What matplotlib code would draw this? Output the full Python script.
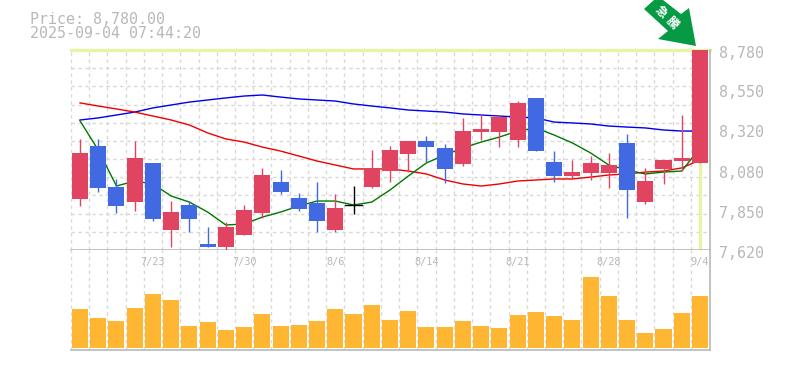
import matplotlib
matplotlib.use("Agg")
import matplotlib.pyplot as plt
from matplotlib.patches import Polygon

title_price = "Price: 8,780.00"
title_time = "2025-09-04 07:44:20"

price_ticks = [8780, 8550, 8320, 8080, 7850, 7620]
date_pos = [4, 9, 14, 19, 24, 29, 34]
date_labels = ["7/23", "7/30", "8/6", "8/14", "8/21", "8/28", "9/4"]

opens = [7916, 8223, 7985, 7898, 8125, 7736, 7881, 7655, 7637, 7707, 7835, 8014, 7922, 7893, 7736,
         7881, 7985, 8078, 8177, 8252, 8212, 8119, 8304, 8304, 8258, 8502, 8130, 8049, 8067, 8067,
         8241, 7898, 8090, 8136, 8125]
closes = [8183, 7980, 7875, 8154, 7800, 7840, 7800, 7637, 7753, 7852, 8055, 7956, 7858, 7788, 7864,
          7881, 8096, 8200, 8252, 8217, 8090, 8310, 8322, 8391, 8473, 8194, 8049, 8072, 8125, 8113,
          7968, 8020, 8142, 8154, 8780]
highs = [8264, 8264, 8032, 8252, 8125, 7904, 7904, 7753, 7782, 7881, 8096, 8084, 7951, 8014, 7945,
         7991, 8200, 8223, 8252, 8281, 8235, 8386, 8409, 8403, 8484, 8502, 8194, 8142, 8165, 8183,
         8293, 8096, 8142, 8403, 8780]
lows = [7875, 7956, 7835, 7846, 7788, 7637, 7724, 7637, 7614, 7707, 7806, 7945, 7846, 7724, 7724,
        7829, 7980, 8014, 8072, 8130, 8009, 8107, 8258, 8217, 8217, 8194, 8014, 8032, 8026, 7980,
        7806, 7887, 8003, 8078, 8125]

ma_short = [8369, 8200, 7991, 8020, 8003, 7933, 7898, 7840, 7765, 7771, 7811, 7840, 7875, 7904,
            7904, 7881, 7898, 7968, 8049, 8125, 8171, 8212, 8246, 8275, 8310, 8328, 8287, 8241,
            8183, 8113, 8084, 8061, 8072, 8078, 8212]
ma_mid = [8473, 8455, 8438, 8420, 8397, 8374, 8345, 8299, 8264, 8246, 8217, 8194, 8165, 8136,
          8113, 8090, 8090, 8090, 8078, 8061, 8026, 8003, 7991, 8003, 8020, 8026, 8032, 8032,
          8043, 8055, 8061, 8072, 8078, 8096, 8142]
ma_long = [8374, 8386, 8403, 8420, 8444, 8461, 8478, 8490, 8502, 8513, 8519, 8507, 8496, 8490,
           8484, 8467, 8455, 8444, 8432, 8426, 8420, 8409, 8403, 8397, 8391, 8386, 8362, 8357,
           8351, 8339, 8333, 8328, 8316, 8310, 8310]

volumes = [39, 30, 27, 40, 54, 48, 22, 26, 18, 21, 34, 22, 23, 27, 39, 34, 43, 28,
           37, 21, 21, 27, 22, 20, 33, 36, 32, 28, 71, 52, 28, 15, 19, 35, 52]

current_price = 8780

UP = "#e04460"
DOWN = "#4169e1"
GRAY = "#b8b8b8"
GRID = "#d8d8d8"
CROSS = "#e6f4a4"
W, H = 785, 370

plt.rcParams["font.family"] = ["DejaVu Sans Mono", "Noto Sans CJK JP"]

fig = plt.figure(figsize=(W / 100, H / 100), dpi=100)
ax = fig.add_axes([71 / W, 1 - 250 / H, 639 / W, 200 / H])
vol = fig.add_axes([71 / W, 1 - 350 / H, 639 / W, 100 / H], sharex=ax)

x = list(range(len(opens)))

for a in (ax, vol):
    a.set_xlim(-0.494, 34.55)
    for s in a.spines.values():
        s.set_visible(False)
    for side in ("right", "bottom"):
        a.spines[side].set_visible(True)
        a.spines[side].set_color(GRAY)
        a.spines[side].set_linewidth(1.2)
    a.tick_params(length=0, labelbottom=False, labelleft=False)
    for i in x:
        a.axvline(i - 0.5, color=GRID, lw=1, ls=(0, (2.5, 2.5)), zorder=0)

ax.set_ylim(7620, 8780)
vol.set_ylim(-2, 98)
vol.set_yticks([])
ax.set_xticks([])

# horizontal grid
for i in range(1, 11):
    ax.axhline(7620 + i * 1160 / 11, color=GRID, lw=1, ls=(0, (2.5, 2.5)), zorder=0)

# crosshair at the latest price
ax.axhline(current_price, color=CROSS, lw=2.4, zorder=1, clip_on=False)
ax.plot([34, 34], [7632, 8125], color=CROSS, lw=2.4, zorder=1)

# moving averages
ax.plot(x, ma_long, color="#0000ee", lw=1, zorder=2)
ax.plot(x, ma_mid, color="#ee0000", lw=1, zorder=2)
ax.plot(x, ma_short, color="#007700", lw=1, zorder=2)

# candles
for i in x:
    if closes[i] > opens[i]:
        c = UP
    elif closes[i] < opens[i]:
        c = DOWN
    else:
        c = "black"
    ax.plot([i, i], [lows[i], highs[i]], color=c, lw=1, zorder=3, solid_capstyle="butt")
    ax.bar(i, abs(closes[i] - opens[i]), bottom=min(opens[i], closes[i]), width=0.88, color=c, zorder=4)
    if c == "black":
        ax.plot([i - 0.44, i + 0.44], [opens[i], opens[i]], color=c, lw=1, zorder=4)

vol.bar(x, volumes, width=0.88, color="#ffb733", zorder=3)

# price labels to the right
for p in price_ticks:
    fig.text(719 / W, 1 - (50 + (8780 - p) / 5.8 + 3) / H, f"{p:,}", fontsize=10.8, color=GRAY,
             va="center", ha="left")

for pos, lab in zip(date_pos, date_labels):
    vol.text(pos, 86, lab, fontsize=7.4, color=GRAY, ha="center", va="center", zorder=2)

fig.text(30 / W, 1 - 19 / H, title_price, fontsize=10.8, color=GRAY, va="center", ha="left")
fig.text(30 / W, 1 - 33 / H, title_time, fontsize=10.8, color=GRAY, va="center", ha="left")

# green arrow badge
arrow = [(654, 0), (644, 9), (668, 31), (658, 39), (696, 46), (689, 8), (681, 14), (663, 0)]
fig.add_artist(Polygon([(px / W, 1 - py / H) for px, py in arrow], closed=True,
                       transform=fig.transFigure, facecolor="#079a44", edgecolor="none"))
fig.text(661 / W, 1 - 12 / H, "急", fontsize=8.5, color="white", weight="bold", rotation=-45,
         ha="center", va="center")
fig.text(672 / W, 1 - 23 / H, "騰", fontsize=8.5, color="white", weight="bold", rotation=-45,
         ha="center", va="center")

fig.savefig("out.png", dpi=100)
